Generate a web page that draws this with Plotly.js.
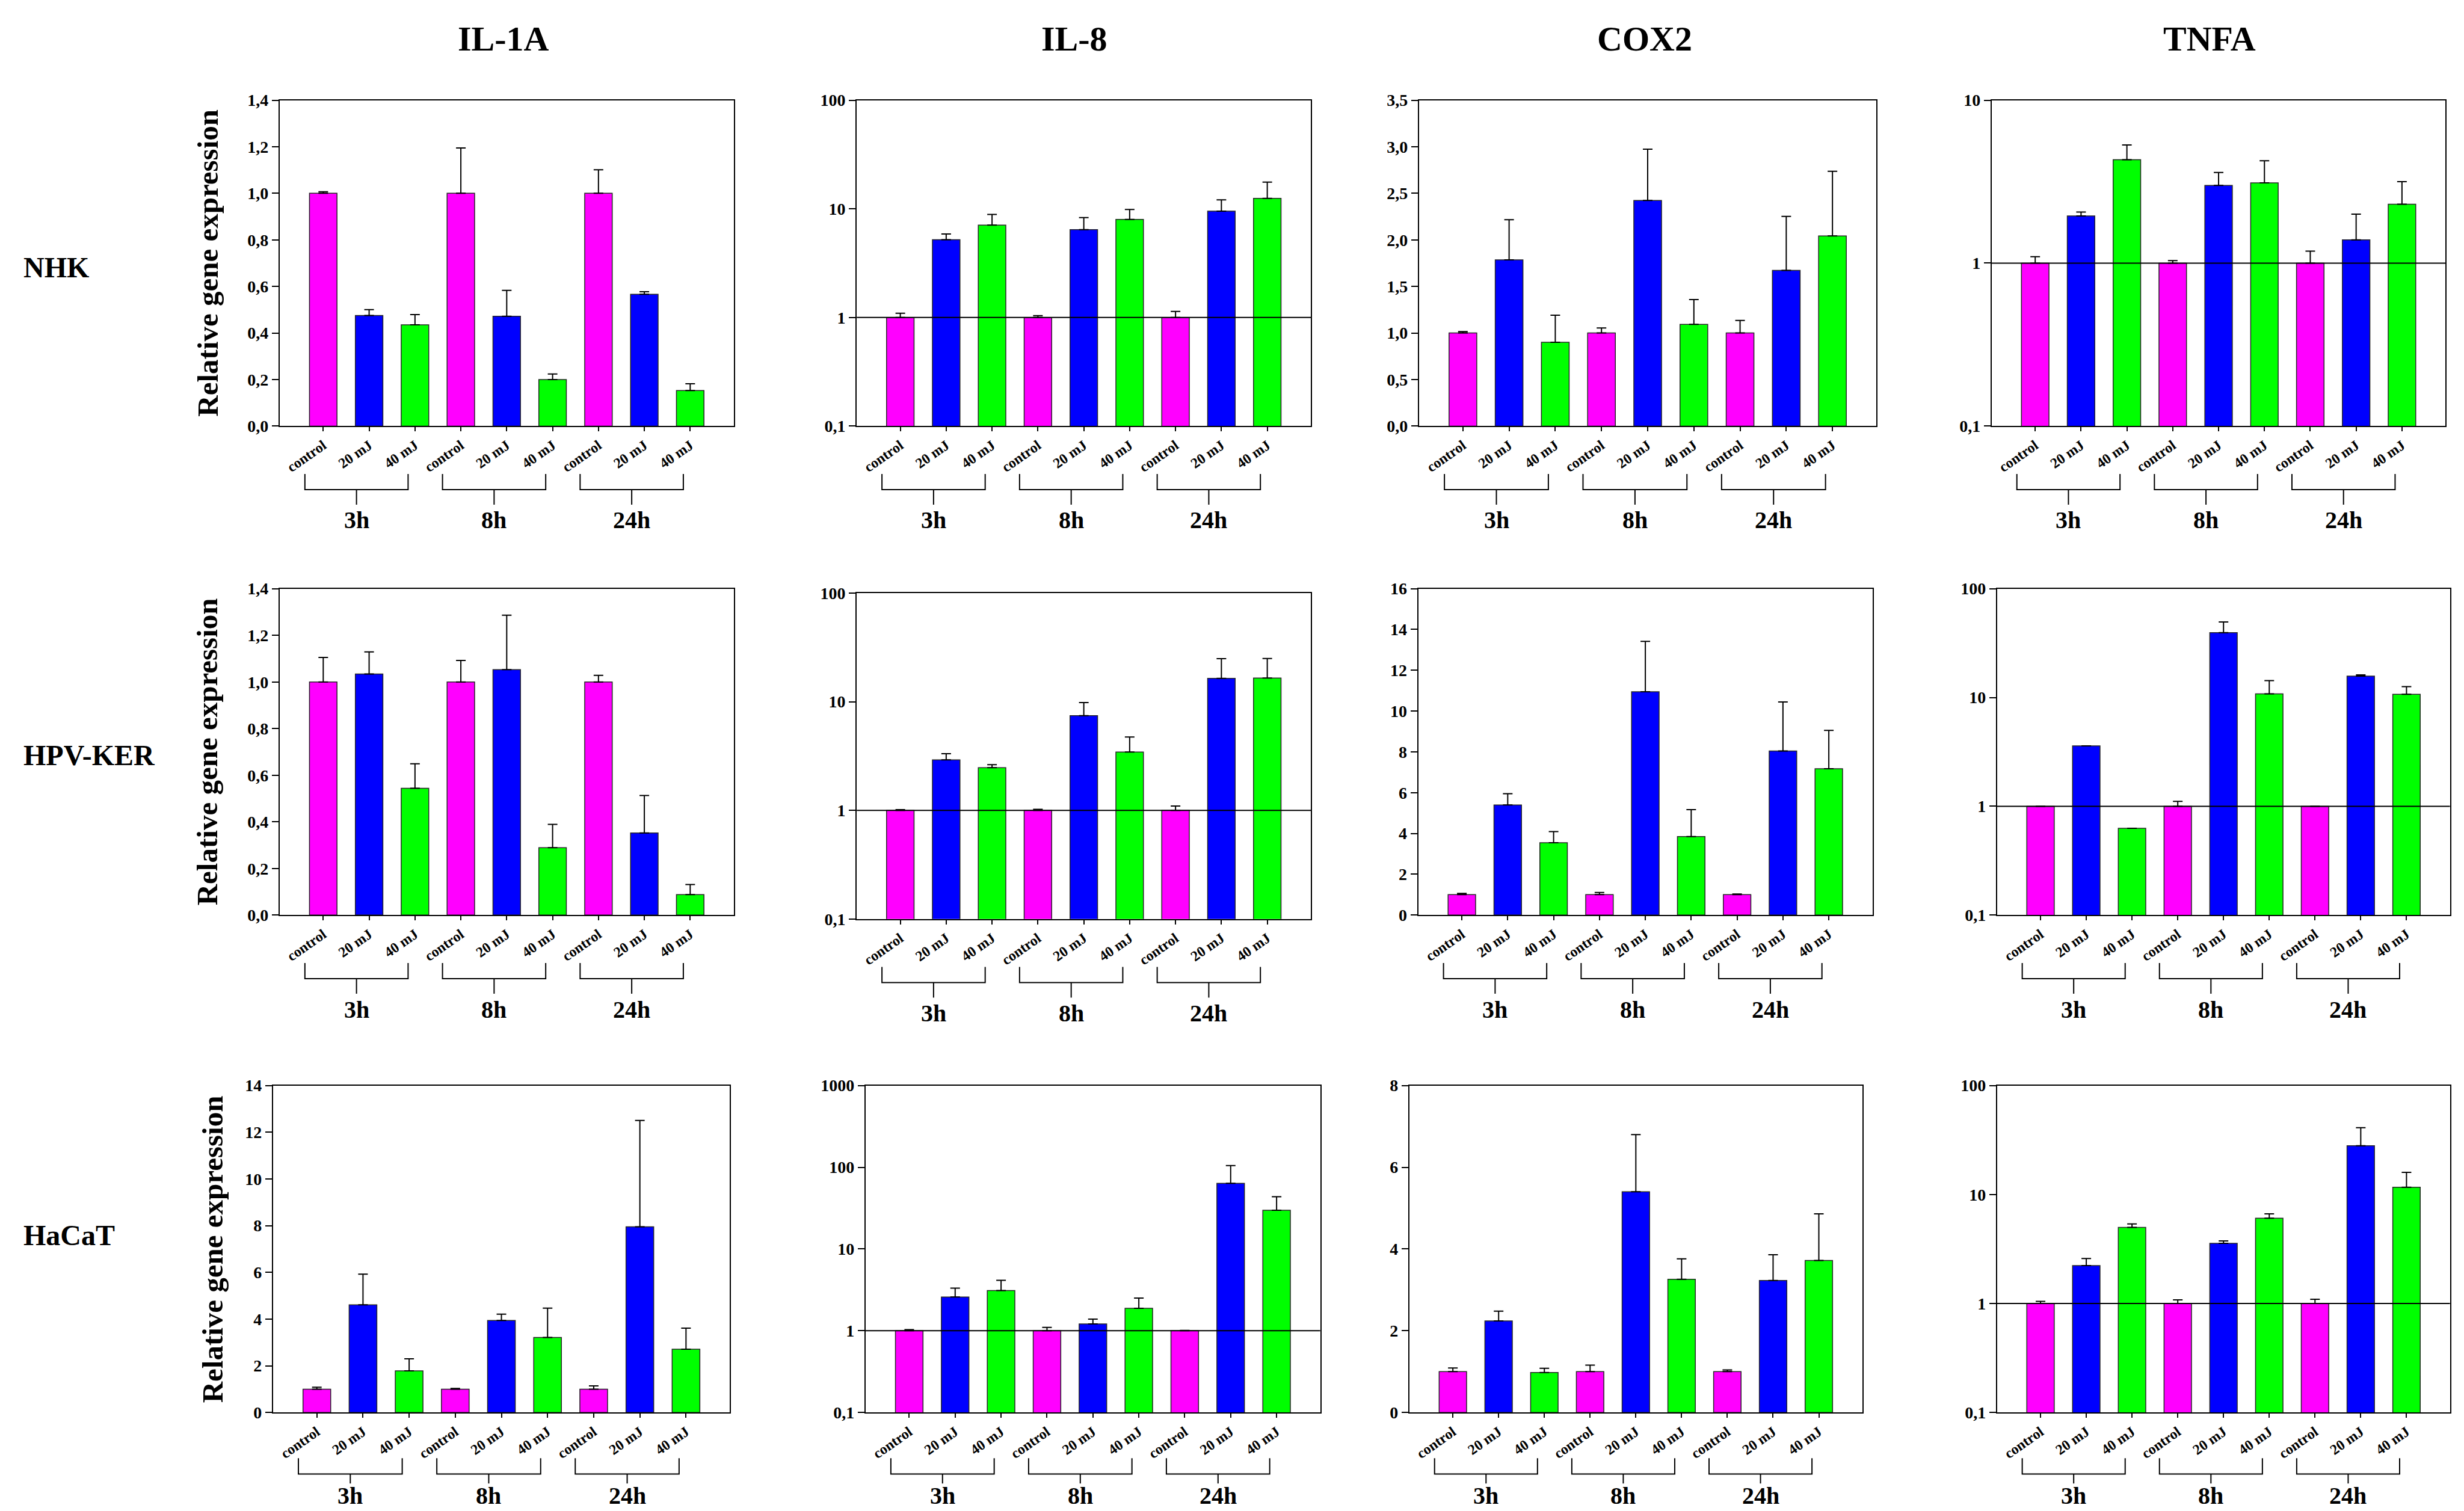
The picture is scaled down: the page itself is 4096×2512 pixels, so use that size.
<!DOCTYPE html>
<html>
<head>
<meta charset="utf-8">
<script src="https://cdn.plot.ly/plotly-3.0.1.min.js"></script>
<style>
html,body{margin:0;padding:0;background:#ffffff;}
#chart{width:4096px;height:2512px;}
</style>
</head>
<body>
<div id="chart"></div>
<script>
// ---------- labels ----------
const genes = ['IL-1A', 'IL-8', 'COX2', 'TNFA'];
const cellLines = ['NHK', 'HPV-KER', 'HaCaT'];
const doses = ['control', '20 mJ', '40 mJ'];
const timepoints = ['3h', '8h', '24h'];
const yAxisTitle = 'Relative gene expression';

// ---------- data (bar height, upper error) ----------
// NHK
const nhk_il1a      = [1.00, 0.475, 0.435, 1.00, 0.472, 0.200, 1.00, 0.566, 0.153];
const nhk_il1a_err  = [0.007, 0.025, 0.044, 0.195, 0.111, 0.024, 0.101, 0.011, 0.029];
const nhk_il8       = [1.00, 5.2, 7.09, 1.00, 6.43, 8.0, 1.00, 9.51, 12.5];
const nhk_il8_err   = [0.094, 0.67, 1.8, 0.04, 1.87, 1.87, 0.137, 2.6, 5.1];
const nhk_cox2      = [1.00, 1.786, 0.901, 1.00, 2.424, 1.092, 1.00, 1.672, 2.042];
const nhk_cox2_err  = [0.015, 0.43, 0.29, 0.053, 0.55, 0.267, 0.134, 0.58, 0.695];
const nhk_tnfa      = [1.00, 1.95, 4.31, 1.00, 3.0, 3.11, 1.00, 1.39, 2.30];
const nhk_tnfa_err  = [0.095, 0.11, 1.0, 0.036, 0.6, 1.14, 0.186, 0.61, 0.86];
// HPV-KER
const hpv_il1a      = [1.00, 1.034, 0.544, 1.00, 1.053, 0.289, 1.00, 0.352, 0.088];
const hpv_il1a_err  = [0.105, 0.095, 0.105, 0.092, 0.233, 0.10, 0.028, 0.161, 0.043];
const hpv_il8       = [1.00, 2.92, 2.47, 1.00, 7.43, 3.44, 1.00, 16.4, 16.5];
const hpv_il8_err   = [0.015, 0.40, 0.16, 0.023, 2.4, 1.29, 0.095, 8.5, 8.5];
const hpv_cox2      = [1.00, 5.40, 3.55, 1.00, 10.95, 3.85, 1.00, 8.04, 7.17];
const hpv_cox2_err  = [0.06, 0.55, 0.54, 0.11, 2.47, 1.32, 0.03, 2.41, 1.88];
const hpv_tnfa      = [1.00, 3.59, 0.628, 1.00, 39.5, 10.8, 1.00, 15.7, 10.7];
const hpv_tnfa_err  = [null, null, null, 0.11, 9.9, 3.5, null, 0.45, 1.9];
// HaCaT
const hacat_il1a     = [1.00, 4.61, 1.78, 1.00, 3.94, 3.21, 1.00, 7.95, 2.71];
const hacat_il1a_err = [0.08, 1.31, 0.52, 0.03, 0.27, 1.26, 0.14, 4.55, 0.90];
const hacat_il8      = [1.00, 2.59, 3.10, 1.00, 1.21, 1.88, 1.00, 63.7, 29.8];
const hacat_il8_err  = [0.03, 0.73, 1.04, 0.10, 0.18, 0.63, 0.01, 41, 13.8];
const hacat_cox2     = [1.00, 2.24, 0.98, 1.00, 5.40, 3.26, 1.00, 3.23, 3.72];
const hacat_cox2_err = [0.087, 0.24, 0.10, 0.16, 1.40, 0.50, 0.04, 0.63, 1.14];
const hacat_tnfa     = [1.00, 2.23, 4.99, 1.00, 3.56, 6.06, 1.00, 28.0, 11.65];
const hacat_tnfa_err = [0.046, 0.36, 0.38, 0.078, 0.19, 0.58, 0.094, 13, 4.3];

// ---------- tick values / labels ----------
const tv_lin_1_4 = [0, 0.2, 0.4, 0.6, 0.8, 1.0, 1.2, 1.4];
const tt_lin_1_4 = ['0,0', '0,2', '0,4', '0,6', '0,8', '1,0', '1,2', '1,4'];
const tv_lin_3_5 = [0, 0.5, 1.0, 1.5, 2.0, 2.5, 3.0, 3.5];
const tt_lin_3_5 = ['0,0', '0,5', '1,0', '1,5', '2,0', '2,5', '3,0', '3,5'];
const tv_lin_16 = [0, 2, 4, 6, 8, 10, 12, 14, 16];
const tt_lin_16 = ['0', '2', '4', '6', '8', '10', '12', '14', '16'];
const tv_lin_14 = [0, 2, 4, 6, 8, 10, 12, 14];
const tt_lin_14 = ['0', '2', '4', '6', '8', '10', '12', '14'];
const tv_lin_8 = [0, 2, 4, 6, 8];
const tt_lin_8 = ['0', '2', '4', '6', '8'];
const tv_log_10 = [0.1, 1, 10];
const tt_log_10 = ['0,1', '1', '10'];
const tv_log_100 = [0.1, 1, 10, 100];
const tt_log_100 = ['0,1', '1', '10', '100'];
const tv_log_1000 = [0.1, 1, 10, 100, 1000];
const tt_log_1000 = ['0,1', '1', '10', '100', '1000'];

// ---------- panels ----------
const panels = [
  {v: nhk_il1a,   e: nhk_il1a_err,   log: false, r: [0, 1.4],  tv: tv_lin_1_4, tt: tt_lin_1_4},
  {v: nhk_il8,    e: nhk_il8_err,    log: true,  r: [0.1, 100], tv: tv_log_100, tt: tt_log_100},
  {v: nhk_cox2,   e: nhk_cox2_err,   log: false, r: [0, 3.5],  tv: tv_lin_3_5, tt: tt_lin_3_5},
  {v: nhk_tnfa,   e: nhk_tnfa_err,   log: true,  r: [0.1, 10], tv: tv_log_10,  tt: tt_log_10},
  {v: hpv_il1a,   e: hpv_il1a_err,   log: false, r: [0, 1.4],  tv: tv_lin_1_4, tt: tt_lin_1_4},
  {v: hpv_il8,    e: hpv_il8_err,    log: true,  r: [0.1, 100], tv: tv_log_100, tt: tt_log_100},
  {v: hpv_cox2,   e: hpv_cox2_err,   log: false, r: [0, 16],   tv: tv_lin_16,  tt: tt_lin_16},
  {v: hpv_tnfa,   e: hpv_tnfa_err,   log: true,  r: [0.1, 100], tv: tv_log_100, tt: tt_log_100},
  {v: hacat_il1a, e: hacat_il1a_err, log: false, r: [0, 14],   tv: tv_lin_14,  tt: tt_lin_14},
  {v: hacat_il8,  e: hacat_il8_err,  log: true,  r: [0.1, 1000], tv: tv_log_1000, tt: tt_log_1000},
  {v: hacat_cox2, e: hacat_cox2_err, log: false, r: [0, 8],    tv: tv_lin_8,   tt: tt_lin_8},
  {v: hacat_tnfa, e: hacat_tnfa_err, log: true,  r: [0.1, 100], tv: tv_log_100, tt: tt_log_100}
];

// ---------- geometry (paper fractions) ----------
const domains = [
  {x: [0.1135, 0.2978], y: [0.7180, 0.9337]},
  {x: [0.3477, 0.5320], y: [0.7180, 0.9337]},
  {x: [0.5759, 0.7615], y: [0.7180, 0.9337]},
  {x: [0.8083, 0.9925], y: [0.7180, 0.9337]},
  {x: [0.1135, 0.2978], y: [0.3944, 0.6104]},
  {x: [0.3477, 0.5320], y: [0.3918, 0.6075]},
  {x: [0.5756, 0.7599], y: [0.3944, 0.6104]},
  {x: [0.8105, 0.9943], y: [0.3944, 0.6104]},
  {x: [0.1108, 0.2962], y: [0.0652, 0.2816]},
  {x: [0.3513, 0.5358], y: [0.0652, 0.2816]},
  {x: [0.5720, 0.7558], y: [0.0652, 0.2816]},
  {x: [0.8105, 0.9943], y: [0.0652, 0.2816]}
];
// bracket offsets below each panel (fractions of panel height): top tick, bar, stem end, label centre
const bracketRows = [
  {y1: -0.147, y2: -0.195, y3: -0.241, yl: -0.289},
  {y1: -0.147, y2: -0.195, y3: -0.241, yl: -0.289},
  {y1: -0.140, y2: -0.188, y3: -0.217, yl: -0.254}
];
const geneTitleX = [0.2044, 0.4361, 0.6674, 0.8967];
const geneTitleY = 0.9742;
const rowLabelY = [0.8231, 0.5002, 0.1825];
const yTitleX = [0.0843, 0.0843, 0.0864];

const FONT = 'Liberation Serif, Times New Roman, serif';
const doseColors = {'control': '#ff00ff', '20 mJ': '#0000ff', '40 mJ': '#00ff00'};
const xRange = [-0.95, 8.95];
const tickText = timepoints.flatMap(() => doses);
const tickVals = tickText.map((_, i) => i);

const traces = [];
const layout = {
  width: 4096, height: 2512,
  margin: {l: 0, r: 0, t: 0, b: 0},
  paper_bgcolor: '#ffffff', plot_bgcolor: '#ffffff',
  showlegend: false,
  font: {family: FONT, color: '#000000'},
  annotations: [], shapes: []
};

panels.forEach((p, k) => {
  const n = k + 1;
  const sfx = n === 1 ? '' : String(n);
  const xa = 'x' + sfx, ya = 'y' + sfx;
  traces.push({
    type: 'bar',
    x: p.v.map((_, i) => i),
    y: p.v,
    width: 0.6,
    xaxis: xa, yaxis: ya,
    marker: {color: tickText.map(d => doseColors[d]), line: {color: '#262626', width: 1.5}},
    error_y: {
      type: 'data', symmetric: false, array: p.e,
      arrayminus: p.e.map(() => 0),
      color: '#000000', thickness: 2, width: 8
    },
    hoverinfo: 'skip'
  });
  const d = domains[k];
  layout['xaxis' + sfx] = {
    domain: d.x, anchor: ya, range: xRange, type: 'linear',
    tickmode: 'array', tickvals: tickVals, ticktext: tickText, tickangle: -35,
    tickfont: {family: FONT, size: 24, color: '#000', weight: 'bold'},
    ticks: 'outside', ticklen: 7, tickwidth: 2, tickcolor: '#000',
    showline: true, mirror: true, linecolor: '#000', linewidth: 2,
    showgrid: false, zeroline: false, automargin: false, fixedrange: true
  };
  layout['yaxis' + sfx] = {
    domain: d.y, anchor: xa,
    type: p.log ? 'log' : 'linear',
    range: p.log ? p.r.map(v => Math.log10(v)) : p.r,
    tickmode: 'array', tickvals: p.tv, ticktext: p.tt,
    tickfont: {family: FONT, size: 28, color: '#000', weight: 'bold'},
    ticks: 'outside', ticklen: 11, tickwidth: 2, tickcolor: '#000',
    showline: true, mirror: true, linecolor: '#000', linewidth: 2,
    showgrid: false, zeroline: false, automargin: false, fixedrange: true
  };
  // reference line at 1 for log panels
  if (p.log) {
    const lr = p.r.map(v => Math.log10(v));
    const yf = (0 - lr[0]) / (lr[1] - lr[0]);
    layout.shapes.push({
      type: 'line', xref: xa + ' domain', yref: ya + ' domain',
      x0: 0, x1: 1, y0: yf, y1: yf,
      line: {color: '#000', width: 2}, layer: 'above'
    });
  }
  // group brackets and labels
  const toDom = v => (v - xRange[0]) / (xRange[1] - xRange[0]);
  const br = bracketRows[Math.floor(k / 4)];
  timepoints.forEach((t, g) => {
    const s = g * 3;
    const xl = toDom(s - 0.4), xr = toDom(s + 1.85), xc = toDom(s + 0.725);
    layout.shapes.push({
      type: 'path', xref: xa + ' domain', yref: ya + ' domain',
      path: `M ${xl},${br.y1} L ${xl},${br.y2} L ${xr},${br.y2} L ${xr},${br.y1} M ${xc},${br.y2} L ${xc},${br.y3}`,
      line: {color: '#000', width: 2}
    });
    layout.annotations.push({
      text: t, xref: xa + ' domain', yref: ya + ' domain',
      x: xc, y: br.yl, xanchor: 'center', yanchor: 'middle', showarrow: false,
      font: {family: FONT, size: 40, color: '#000', weight: 'bold'}
    });
  });
});

// column titles
genes.forEach((g, i) => {
  layout.annotations.push({
    text: g, xref: 'paper', yref: 'paper', x: geneTitleX[i], y: geneTitleY,
    xanchor: 'center', yanchor: 'middle', showarrow: false,
    font: {family: FONT, size: 58, color: '#000', weight: 'bold'}
  });
});
// row labels and y titles
cellLines.forEach((c, i) => {
  layout.annotations.push({
    text: c, xref: 'paper', yref: 'paper', x: 0.009, y: rowLabelY[i],
    xanchor: 'left', yanchor: 'middle', showarrow: false,
    font: {family: FONT, size: 48, color: '#000', weight: 'bold'}
  });
  const dy = domains[i * 4].y;
  layout.annotations.push({
    text: yAxisTitle, xref: 'paper', yref: 'paper', x: yTitleX[i], y: (dy[0] + dy[1]) / 2,
    xanchor: 'center', yanchor: 'middle', showarrow: false, textangle: -90,
    font: {family: FONT, size: 49, color: '#000', weight: 'bold'}
  });
});

Plotly.newPlot('chart', traces, layout, {staticPlot: true, displayModeBar: false});
</script>
</body>
</html>
